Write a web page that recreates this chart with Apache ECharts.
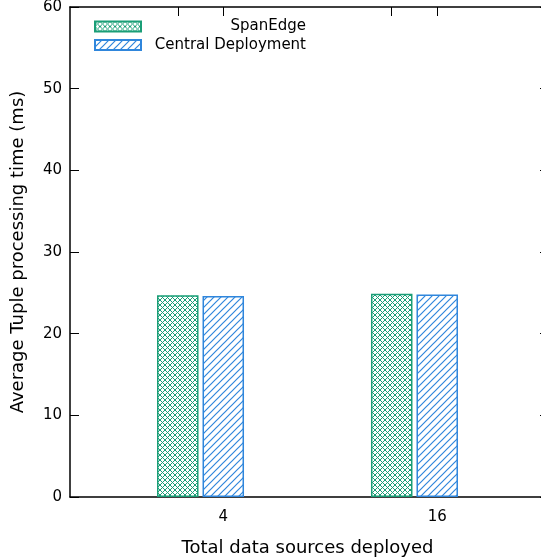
<!DOCTYPE html>
<html>
<head>
<meta charset="utf-8">
<script src="https://cdn.jsdelivr.net/npm/echarts@6/dist/echarts.min.js"></script>
<style>
html, body { margin: 0; padding: 0; background: #fff; }
#chart { width: 541px; height: 558px; }
</style>
</head>
<body>
<div id="chart"></div>
<script>
// data
var categories = ['4', '16'];
var seriesNames = ['SpanEdge', 'Central Deployment'];
var spanEdge = [24.7, 24.9];
var central = [24.6, 24.8];
var yTicks = [0, 10, 20, 30, 40, 50, 60];

var green = '#1a9e77';
var blue = '#2f86dc';
var font = 'DejaVu Sans';

// pattern fills, like gnuplot's fill patterns
function crossPattern(color) {
    var s = 5;
    var c = document.createElement('canvas');
    c.width = s; c.height = s;
    var ctx = c.getContext('2d');
    ctx.fillStyle = '#ffffff';
    ctx.fillRect(0, 0, s, s);
    ctx.fillStyle = color;
    for (var i = 0; i < s; i++) {
        ctx.fillRect(i, i, 1, 1);
        ctx.fillRect(s - 1 - i, i, 1, 1);
    }
    return c;
}
function slashPattern(color) {
    var s = 7;
    var c = document.createElement('canvas');
    c.width = s; c.height = s;
    var ctx = c.getContext('2d');
    ctx.fillStyle = '#ffffff';
    ctx.fillRect(0, 0, s, s);
    ctx.strokeStyle = color;
    ctx.lineWidth = 1.2;
    ctx.beginPath();
    ctx.moveTo(-1, s + 1); ctx.lineTo(s + 1, -1);
    ctx.moveTo(-1, 1); ctx.lineTo(1, -1);
    ctx.moveTo(s - 1, s + 1); ctx.lineTo(s + 1, s - 1);
    ctx.stroke();
    return c;
}

var xMin = -0.61, xMax = 1.61;
var plotLeft = 70, plotWidth = 475;
var barWidth = 41.5, barGapPx = 4;
var pxPerUnit = plotWidth / (xMax - xMin);
var barOffset = (barWidth + barGapPx) / 2 / pxPerUnit;

var labelPos = categories.map(function (c, i) { return i + barOffset; });
var topTicks = [];
categories.forEach(function (c, i) {
    topTicks.push(i - barOffset, i + barOffset);
});

function toPoints(arr) {
    return arr.map(function (v, i) { return [i, v]; });
}

var axisLineStyle = { show: true, onZero: false, lineStyle: { color: '#000', width: 1.5 } };

var chart = echarts.init(document.getElementById('chart'));
var option = {
    animation: false,
    backgroundColor: '#fff',
    textStyle: { fontFamily: font },
    grid: { left: plotLeft, width: plotWidth, top: 7, bottom: 61, outerBoundsMode: 'none', containLabel: false },
    legend: {
        data: seriesNames,
        orient: 'vertical',
        left: 89,
        top: 14,
        icon: 'rect',
        itemWidth: 46,
        itemHeight: 10,
        itemGap: 3.5,
        formatter: function (name) { return '{r|' + name + '}'; },
        textStyle: {
            fontSize: 15, color: '#000', fontFamily: font,
            rich: { r: { width: 160, align: 'right', fontSize: 15, color: '#000', fontFamily: font } }
        }
    },
    xAxis: [{
        type: 'value',
        min: xMin,
        max: xMax,
        position: 'bottom',
        name: 'Total data sources deployed',
        nameLocation: 'middle',
        nameGap: 42,
        nameTextStyle: { fontSize: 18, color: '#000', fontFamily: font },
        axisLine: axisLineStyle,
        axisTick: { show: false },
        splitLine: { show: false },
        axisLabel: {
            customValues: labelPos,
            fontSize: 15,
            color: '#000',
            margin: 13,
            formatter: function (v) { return categories[Math.round(v - barOffset)]; }
        }
    }, {
        type: 'value',
        min: xMin,
        max: xMax,
        position: 'top',
        axisLine: axisLineStyle,
        axisTick: { show: true, inside: true, length: 9, customValues: topTicks, lineStyle: { color: '#000' } },
        axisLabel: { show: false },
        splitLine: { show: false }
    }],
    yAxis: [{
        type: 'value',
        min: 0,
        max: 60,
        interval: 10,
        position: 'left',
        name: 'Average Tuple processing time (ms)',
        nameLocation: 'middle',
        nameGap: 43,
        nameTextStyle: { fontSize: 18, color: '#000', fontFamily: font },
        axisLine: axisLineStyle,
        axisTick: { show: true, inside: true, length: 9, customValues: yTicks, lineStyle: { color: '#000' } },
        axisLabel: { fontSize: 15, color: '#000', margin: 8, customValues: yTicks },
        splitLine: { show: false }
    }, {
        type: 'value',
        min: 0,
        max: 60,
        interval: 10,
        position: 'right',
        axisLine: { show: false, onZero: false },
        axisTick: { show: true, inside: true, length: 5, lineStyle: { color: '#000' } },
        axisLabel: { show: false },
        splitLine: { show: false }
    }],
    series: [{
        name: seriesNames[0],
        type: 'bar',
        data: toPoints(spanEdge),
        barWidth: barWidth,
        barGap: (barGapPx / barWidth * 100) + '%',
        itemStyle: {
            color: { image: crossPattern(green), repeat: 'repeat' },
            borderColor: green,
            borderWidth: 1.5
        }
    }, {
        name: seriesNames[1],
        type: 'bar',
        data: toPoints(central),
        barWidth: barWidth,
        barGap: (barGapPx / barWidth * 100) + '%',
        itemStyle: {
            color: { image: slashPattern(blue), repeat: 'repeat' },
            borderColor: blue,
            borderWidth: 1.5
        }
    }]
};
chart.setOption(option);
</script>
</body>
</html>
